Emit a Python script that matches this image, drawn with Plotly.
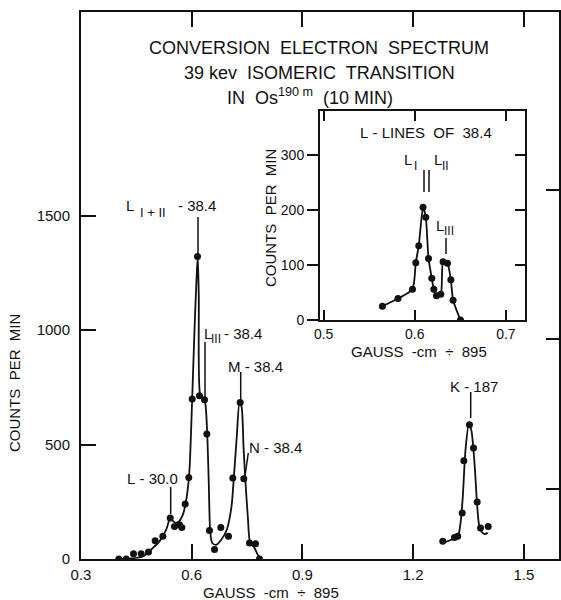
import plotly.graph_objects as go

# ---------------- data ----------------
# main spectrum: measured points
main_x = [0.4025, 0.4225, 0.4423, 0.4631, 0.4829, 0.501, 0.5217, 0.5417, 0.5534, 0.567,
          0.5732, 0.5823, 0.5921, 0.6013, 0.6157, 0.6211, 0.6347, 0.641, 0.6482, 0.6618,
          0.6789, 0.6997, 0.7114, 0.7314, 0.7412, 0.7566, 0.7729, 0.7837]
main_y = [0, 0, 23, 23, 31, 80, 99, 179, 142, 150,
          138, 240, 356, 699, 1321, 713, 696, 546, 124, 41,
          138, 99, 354, 684, 351, 70, 67, 0]
# main spectrum: hand-drawn fitted curve
curve_x = [0.4024, 0.4314, 0.4675, 0.4946, 0.5127, 0.5309, 0.5417, 0.5534, 0.5623, 0.5759,
           0.5867, 0.594, 0.6013, 0.6076, 0.6138, 0.6165, 0.6192, 0.623, 0.6301, 0.6366,
           0.642, 0.6463, 0.6501, 0.6556, 0.6664, 0.68, 0.6951, 0.7079, 0.7141, 0.7222,
           0.7295, 0.735, 0.7404, 0.745, 0.752, 0.7585, 0.7702, 0.7791, 0.7883]
curve_y = [0, 2, 11, 48, 77, 128, 176, 160, 160, 193,
           273, 390, 700, 1000, 1250, 1321, 1147, 717, 703, 681,
           547, 332, 121, 70, 62, 84, 128, 230, 354, 535,
           681, 666, 492, 354, 186, 70, 48, 19, 0]
# K-187 peak
k_x = [1.2805, 1.312, 1.321, 1.333, 1.3375, 1.3528, 1.3637, 1.3737, 1.3827, 1.4035]
k_y = [77, 94, 99, 201, 429, 586, 485, 249, 135, 142]
k_curve_x = [1.2805, 1.3033, 1.3211, 1.3285, 1.3347, 1.342, 1.351, 1.3575, 1.3664, 1.3726,
             1.378, 1.3846, 1.3935, 1.4024]
k_curve_y = [70, 84, 99, 157, 273, 477, 586, 565, 419, 259,
             157, 121, 109, 114]
# inset: L-lines of 38.4
inset_x = [0.5645, 0.5816, 0.5975, 0.6011, 0.6044, 0.6091, 0.6121, 0.6151, 0.6187, 0.6209,
           0.6238, 0.6286, 0.6311, 0.6359, 0.6396, 0.6421, 0.6502]
inset_y = [25, 39, 56, 104, 135, 205, 187, 112, 76, 56,
           44, 47, 106, 103, 73, 36, 0]

main_xticks = [0.3, 0.6, 0.9, 1.2, 1.5]
main_xticktext = ["0.3", "0.6", "0.9", "1.2", "1.5"]
main_yticks = [0, 500, 1000, 1500]
main_yticktext = ["0", "500", "1000", "1500"]
main_right_ticks = [306, 961, 1611]
inset_xticks = [0.5, 0.6, 0.7]
inset_xticktext = ["0.5", "0.6", "0.7"]
inset_yticks = [0, 100, 200, 300]
inset_yticktext = ["0", "100", "200", "300"]

title_lines = ["CONVERSION\u00a0 ELECTRON\u00a0 SPECTRUM",
               "39 kev\u00a0 ISOMERIC\u00a0 TRANSITION",
               "IN\u00a0 Os<sup>190 m</sup>\u00a0 (10 MIN)"]
axis_title_x = "GAUSS\u00a0 -cm\u00a0 \u00f7\u00a0 895"
axis_title_y = "COUNTS\u00a0 PER\u00a0 MIN"
inset_title = "L\u00a0-\u00a0LINES\u00a0 OF\u00a0 38.4"

# ---------------- geometry helpers (pixel -> coordinates) ----------------
W, H = 561, 600
L_M, R_M, T_M, B_M = 81, 2, 12, 41
PW, PH = W - L_M - R_M, H - T_M - B_M
X0, XS = 0.3, 369.0          # main x: data 0.3 at left edge, px per unit
YS = 547.0 / 2389.0          # main y: px per count
Y_MAX = 2389
IX_RANGE = [0.496, 0.721]
IY_RANGE = [0, 380]
I_LEFT, I_RIGHT, I_TOP, I_BOT = 320, 525, 111, 320


def pxp(px):
    return (px - L_M) / PW


def pyp(py):
    return (H - B_M - py) / PH


def mx(px):
    return X0 + (px - L_M) / XS


def my(py):
    return (H - B_M - py) / YS


def ix(px):
    return IX_RANGE[0] + (px - I_LEFT) / (I_RIGHT - I_LEFT) * (IX_RANGE[1] - IX_RANGE[0])


def iy(py):
    return (I_BOT - py) / (I_BOT - I_TOP) * (IY_RANGE[1] - IY_RANGE[0])


FONT = "Liberation Sans"
BLACK = "#111"

fig = go.Figure()
fig.add_trace(go.Scatter(x=curve_x, y=curve_y, mode="lines",
                         line=dict(color=BLACK, width=1.8, shape="spline", smoothing=0.7),
                         hoverinfo="skip", showlegend=False))
fig.add_trace(go.Scatter(x=main_x, y=main_y, mode="markers",
                         marker=dict(color=BLACK, size=7), showlegend=False))
fig.add_trace(go.Scatter(x=k_curve_x, y=k_curve_y, mode="lines",
                         line=dict(color=BLACK, width=1.8, shape="spline", smoothing=0.7),
                         hoverinfo="skip", showlegend=False))
fig.add_trace(go.Scatter(x=k_x, y=k_y, mode="markers",
                         marker=dict(color=BLACK, size=7), showlegend=False))
# dummy trace for the right tick axis
fig.add_trace(go.Scatter(x=[None], y=[None], xaxis="x", yaxis="y3", showlegend=False,
                         hoverinfo="skip"))
# inset
fig.add_trace(go.Scatter(x=inset_x, y=inset_y, mode="lines+markers",
                         line=dict(color=BLACK, width=1.8, shape="spline", smoothing=0.6),
                         marker=dict(color=BLACK, size=7),
                         xaxis="x2", yaxis="y2", showlegend=False))
fig.add_trace(go.Scatter(x=[None], y=[None], xaxis="x2", yaxis="y4", showlegend=False,
                         hoverinfo="skip"))

tickfont = dict(family=FONT, size=15, color=BLACK)
itickfont = dict(family=FONT, size=14, color=BLACK)

fig.update_layout(
    width=W, height=H,
    margin=dict(l=L_M, r=R_M, t=T_M, b=B_M),
    paper_bgcolor="white", plot_bgcolor="white",
    showlegend=False,
    xaxis=dict(range=[X0, X0 + PW / XS], domain=[0, 1], tickvals=main_xticks,
               ticktext=main_xticktext, ticks="inside", ticklen=15, tickwidth=1.5,
               tickcolor=BLACK, showline=True, linewidth=2, linecolor=BLACK,
               mirror="ticks", showgrid=False, zeroline=False, tickfont=tickfont,
               ticklabelstandoff=1),
    yaxis=dict(range=[0, Y_MAX], domain=[0, 1], tickvals=main_yticks,
               ticktext=main_yticktext, ticks="inside", ticklen=15, tickwidth=1.5,
               tickcolor=BLACK, showline=True, linewidth=2, linecolor=BLACK,
               mirror=False, showgrid=False, zeroline=False, tickfont=tickfont,
               ticklabelstandoff=6),
    yaxis3=dict(range=[0, Y_MAX], overlaying="y", side="right", anchor="x",
                tickvals=main_right_ticks, showticklabels=False, ticks="inside",
                ticklen=13, tickwidth=1.5, tickcolor=BLACK, showline=True,
                linewidth=2, linecolor=BLACK,
                showgrid=False, zeroline=False),
    xaxis2=dict(range=IX_RANGE, domain=[pxp(I_LEFT), pxp(I_RIGHT)], anchor="y2",
                tickvals=inset_xticks, ticktext=inset_xticktext, ticks="inside",
                ticklen=10, tickwidth=1.5, tickcolor=BLACK, showline=True, linewidth=2,
                linecolor=BLACK, mirror="ticks", showgrid=False, zeroline=False,
                tickfont=itickfont, ticklabelstandoff=0),
    yaxis2=dict(range=IY_RANGE, domain=[pyp(I_BOT), pyp(I_TOP)], anchor="x2",
                tickvals=inset_yticks, ticktext=inset_yticktext, ticks="outside",
                ticklen=11, tickwidth=1.5, tickcolor=BLACK, showline=True, linewidth=2,
                linecolor=BLACK, mirror=False, showgrid=False, zeroline=False,
                tickfont=itickfont, ticklabelstandoff=0),
    yaxis4=dict(range=IY_RANGE, overlaying="y2", side="right", anchor="x2",
                tickvals=inset_yticks[1:], showticklabels=False, ticks="inside",
                ticklen=10, tickwidth=1.5, tickcolor=BLACK, showline=True, linewidth=2,
                linecolor=BLACK, showgrid=False, zeroline=False),
)

# ---------- text ----------
def ann(text, x, y, size=15, xref="paper", yref="paper", xanchor="center",
        yanchor="middle", angle=0):
    fig.add_annotation(text=text, x=x, y=y, xref=xref, yref=yref, showarrow=False,
                       xanchor=xanchor, yanchor=yanchor, textangle=angle,
                       font=dict(family=FONT, size=size, color=BLACK))


def ptxt(text, px, py, size=15, xanchor="left"):
    """text placed at a pixel position of the page"""
    ann(text, pxp(px), pyp(py), size=size, xanchor=xanchor)


ann(title_lines[0], pxp(319), pyp(48), size=18)
ann(title_lines[1], pxp(319), pyp(73), size=18)
ann(title_lines[2], pxp(310), pyp(96), size=18)
ann(axis_title_x, pxp(271), pyp(592), size=15)
ann(axis_title_y, pxp(15), pyp(383), size=15, angle=-90)

# main peak labels (letter, lowered roman-numeral subscript, energy)
ptxt("L", 124, 205)
ptxt("I\u00a0+\u00a0II", 138, 212, size=13)
ptxt("-\u00a038.4", 176, 205)
ptxt("L", 202, 333)
ptxt("III", 209, 339, size=12)
ptxt("-\u00a038.4", 222, 333)
ptxt("M\u00a0-\u00a038.4", 255, 366, xanchor="center")
ptxt("N\u00a0-\u00a038.4", 275, 448, xanchor="center")
ptxt("L\u00a0-\u00a030.0", 152, 478, xanchor="center")
ptxt("K\u00a0-\u00a0187", 474, 386, xanchor="center")

# inset texts
ann(inset_title, pxp(426), pyp(132), size=15)
ann(axis_title_y, pxp(270), pyp(218), size=15, angle=-90)
ann(axis_title_x, pxp(419), pyp(351), size=15)
ptxt("L", 402, 160)
ptxt("I", 412, 166, size=12)
ptxt("L", 432, 160)
ptxt("II", 440, 166, size=12)
ptxt("L", 434, 225)
ptxt("III", 442, 231, size=12)

# marker (pointer) lines
def vline(x0, y0, x1, y1, xref="x", yref="y"):
    fig.add_shape(type="line", x0=x0, y0=y0, x1=x1, y1=y1, xref=xref, yref=yref,
                  line=dict(color=BLACK, width=1.5))


vline(mx(198), my(217), mx(198), my(254))
vline(mx(205), my(342), mx(205), my(398))
vline(mx(240.7), my(372), mx(240.7), my(400))
vline(mx(248.3), my(453), mx(245), my(476))
vline(mx(170.7), my(487), mx(170.7), my(514))
vline(mx(470.7), my(392), mx(470.7), my(418))
vline(ix(424), iy(170), ix(424), iy(192), "x2", "y2")
vline(ix(429), iy(170), ix(429), iy(192), "x2", "y2")
vline(ix(446), iy(238), ix(446), iy(254), "x2", "y2")

fig.write_html("out.html")
